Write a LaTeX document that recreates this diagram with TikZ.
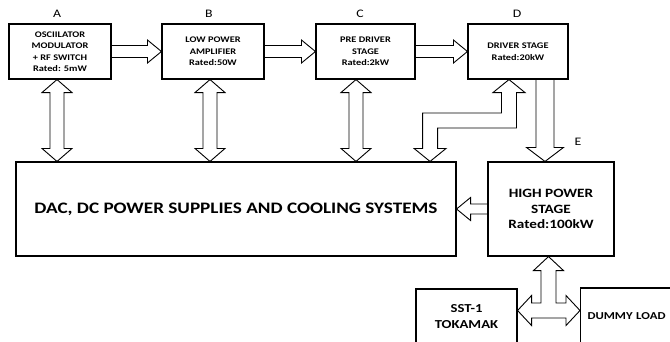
\documentclass[tikz,border=0pt]{standalone}
\usepackage{fontspec}
\setmainfont[FakeStretch=1.2]{Carlito}
\usetikzlibrary{calc}

% sizes of a block arrow: shaft half width / head half width / head length
\def\setarrowsize#1/#2/#3\relax{\def\sw{#1pt}\def\hw{#2pt}\def\hl{#3pt}}
% block arrow, head at #3
\newcommand{\blockarrow}[3][7/15/13]{%
  \setarrowsize#1\relax
  \coordinate (ba-s) at (#2);
  \coordinate (ba-e) at (#3);
  \coordinate (ba-m) at ($(ba-e)!\hl!(ba-s)$);
  \draw[blockline] ($(ba-s)!\sw!90:(ba-e)$) -- ($(ba-m)!\sw!90:(ba-e)$)
    -- ($(ba-m)!\hw!90:(ba-e)$) -- (ba-e) -- ($(ba-m)!\hw!-90:(ba-e)$)
    -- ($(ba-m)!\sw!-90:(ba-e)$) -- ($(ba-s)!\sw!-90:(ba-e)$);
}
% block arrow, heads at both ends
\newcommand{\dblockarrow}[3][7/15/13]{%
  \setarrowsize#1\relax
  \coordinate (ba-s) at (#2);
  \coordinate (ba-e) at (#3);
  \coordinate (ba-m) at ($(ba-s)!\hl!(ba-e)$);
  \coordinate (ba-n) at ($(ba-e)!\hl!(ba-s)$);
  \draw[blockline] (ba-s) -- ($(ba-m)!\hw!90:(ba-e)$) -- ($(ba-m)!\sw!90:(ba-e)$)
    -- ($(ba-n)!\sw!90:(ba-e)$) -- ($(ba-n)!\hw!90:(ba-e)$) -- (ba-e)
    -- ($(ba-n)!\hw!-90:(ba-e)$) -- ($(ba-n)!\sw!-90:(ba-e)$)
    -- ($(ba-m)!\sw!-90:(ba-e)$) -- ($(ba-m)!\hw!-90:(ba-e)$) -- cycle;
}

\begin{document}
\begin{tikzpicture}[x=1pt,y=-1pt,
  stage/.style={draw, line width=1.1pt, align=center, inner sep=2pt,
                font=\bfseries\fontsize{8.6}{11.5}\selectfont},
  bigstage/.style={stage, font=\bfseries\fontsize{12.7}{15.7}\selectfont},
  tag/.style={font=\fontsize{11.5}{13}\selectfont},
  blockline/.style={line width=0.9pt, line join=miter}]
  \useasboundingbox (0,0) rectangle (670,341);
  \clip (0,0) rectangle (670,341);
  \def\cA{60}\def\cB{213}\def\cC{365.5}\def\cD{518}
  \def\rT{51.5}\def\rM{209}
  % top row
  \node[stage, minimum width=102, minimum height=55] (osc) at (\cA,\rT)
        {OSCIILATOR\\MODULATOR\\+ RF SWITCH\\Rated: 5mW};
  \node[stage, minimum width=102, minimum height=55] (lpa) at (\cB,\rT)
        {LOW POWER\\AMPLIFIER\\Rated:50W};
  \node[stage, minimum width=99, minimum height=55] (pre) at (\cC,\rT)
        {PRE DRIVER\\STAGE\\Rated:2kW};
  \node[stage, minimum width=100, minimum height=55] (drv) at (\cD,\rT)
        {DRIVER STAGE\\Rated:20kW};
  \node[tag] (tagA) at (57,14) {A};
  \node[tag] (tagB) at (209,14) {B};
  \node[tag] (tagC) at (360,14) {C};
  \node[tag] (tagD) at (517,14) {D};
  % middle row
  \node[stage, minimum width=440, minimum height=94,
        font=\bfseries\fontsize{16}{19}\selectfont] (dac) at (236,\rM)
        {DAC, DC POWER SUPPLIES AND COOLING SYSTEMS};
  \node[bigstage, minimum width=126, minimum height=94] (hps) at (551,\rM)
        {HIGH POWER\\STAGE\\Rated:100kW};
  \node[tag] (tagE) at (578,142) {E};
  % loads
  \node[bigstage, minimum width=101, minimum height=56,
        font=\bfseries\fontsize{12.2}{16}\selectfont] (sst) at (466.5,317)
        {SST-1\\TOKAMAK};
  \node[bigstage, anchor=west, text width=82, align=left, inner xsep=7,
        minimum height=57, font=\bfseries\fontsize{10.6}{13}\selectfont]
        (dmy) at (580,316.5) {DUMMY LOAD};

  % signal chain
  \blockarrow[6/11.5/14]{osc.east}{lpa.west}
  \blockarrow[6/11.5/14]{lpa.east}{pre.west}
  \blockarrow[6/11.5/14]{pre.east}{drv.west}
  % links to the supplies
  \coordinate (oscv) at ([xshift=-3pt]osc.south);
  \coordinate (lpav) at ([xshift=-3pt]lpa.south);
  \coordinate (prev) at ([xshift=-9.5pt]pre.south);
  \dblockarrow{oscv}{oscv |- dac.north}
  \dblockarrow{lpav}{lpav |- dac.north}
  \dblockarrow{prev}{prev |- dac.north}
  % bent link driver <-> supplies
  \coordinate (dc) at ([xshift=-26.5pt]dac.north east);
  \coordinate (dd) at ([xshift=-9pt]drv.south);
  \coordinate (elb) at ($(dd)!0.5!(dc)$);
  \draw[blockline] (dc) -- ++(-16,-13) -- ++(8.5,0)
    |- ($(dd |- elb)+(-7.5,-7.5)$) -- ($(dd)+(-7.5,13)$) -- ++(-8.5,0)
    -- (dd) -- ++(16,13) -- ++(-8.5,0)
    |- ($(dc |- elb)+(7.5,7.5)$) -- ($(dc)+(7.5,-13)$) -- ++(8.5,0) -- cycle;
  % driver -> high power stage
  \coordinate (dtoe) at ([xshift=27pt]drv.south);
  \blockarrow[9/18.5/14]{dtoe}{dtoe |- hps.north}
  \blockarrow[5/11.5/14]{hps.west}{dac.east}
  % high power stage <-> loads
  \coordinate (tee) at (548.5,310.5);
  \coordinate (tt) at (tee |- hps.south);
  \coordinate (tl) at (tee -| sst.east);
  \coordinate (tr) at (tee -| dmy.west);
  \draw[blockline] (tt) -- ($(tt)+(-15,14)$) -- ($(tt)+(-7.5,14)$)
    -- ($(tee)+(-7.5,-7.5)$) -- ($(tl)+(14,-7.5)$) -- ($(tl)+(14,-15)$)
    -- (tl) -- ($(tl)+(14,15)$) -- ($(tl)+(14,7.5)$) -- ($(tr)+(-14,7.5)$)
    -- ($(tr)+(-14,15)$) -- (tr) -- ($(tr)+(-14,-15)$) -- ($(tr)+(-14,-7.5)$)
    -- ($(tee)+(7.5,-7.5)$) -- ($(tt)+(7.5,14)$) -- ($(tt)+(15,14)$) -- cycle;
\end{tikzpicture}
\end{document}
